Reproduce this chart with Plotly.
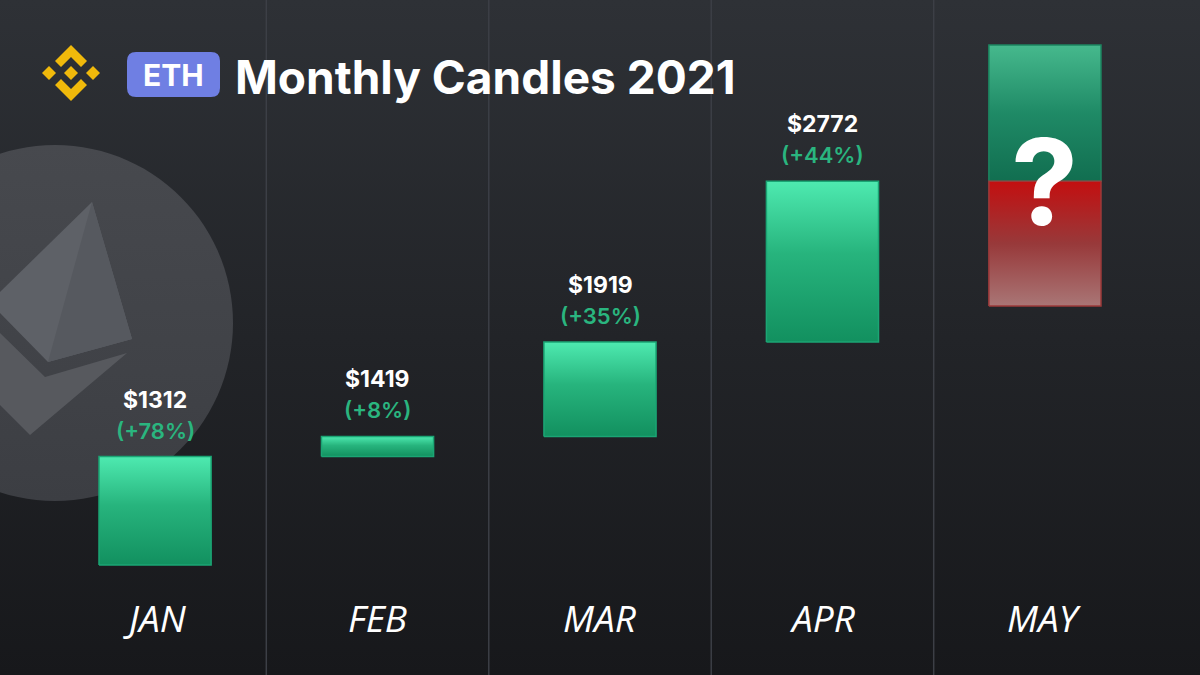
#! /usr/bin/env python3
# ETH monthly candles 2021 - recreated with plotly

import math
import plotly.graph_objects as go

months = ['JAN', 'FEB', 'MAR', 'APR', 'MAY']
opens = [737, 1312, 1419, 1919]
closes = [1312, 1419, 1919, 2772]
changes = ['+78%', '+8%', '+35%', '+44%']
# MAY is still unknown: a green/red "?" candle around the APR close
may_open = 2772
may_high = 3494
may_low = 2110

W, H = 1200, 675
half = 0.252  # half candle width in category units

fig = go.Figure()

# ---- background layer (pixel axes x / y, y reversed so the gradient is flipped) ----
fig.add_trace(go.Scatter(
    x=[0, W, W, 0, 0], y=[0, 0, H, H, 0], mode='none', fill='toself',
    fillgradient=dict(type='vertical', colorscale=[[0, '#17181b'], [0.5, '#222428'], [1, '#2e3136']]),
    hoverinfo='skip', showlegend=False))

# eth coin in the background
cx, cy, r = 55, 323, 178
angles = [i * 2 * math.pi / 120 for i in range(121)]
fig.add_trace(go.Scatter(
    x=[cx + r * math.cos(a) for a in angles], y=[cy + r * math.sin(a) for a in angles],
    mode='none', fill='toself',
    fillgradient=dict(type='vertical', colorscale=[[0, '#3c3e43'], [1, '#47494e']]),
    hoverinfo='skip', showlegend=False))
glyph = [
    ([92, 132, 48, 0, 0, 92], [202, 339, 362, 313, 292, 202], '#5e6167'),
    ([92, 132, 48, 92], [202, 339, 362, 202], '#56595f'),
    ([0, 45, 127, 30, 0, 0], [333, 377, 353, 435, 405, 333], '#57595e'),
]
for gx, gy, colour in glyph:
    fig.add_trace(go.Scatter(x=gx, y=gy, mode='none', fill='toself', fillcolor=colour,
                             hoverinfo='skip', showlegend=False))

# ---- candles (data axes x2 / y2) ----
for i in range(len(closes)):
    o, c = opens[i], closes[i]
    fig.add_trace(go.Scatter(
        x=[i - half, i + half, i + half, i - half, i - half], y=[o, o, c, c, o],
        xaxis='x2', yaxis='y2', mode='lines', fill='toself',
        line=dict(color='#1ba574', width=1.5),
        fillgradient=dict(type='vertical', colorscale=[[0, '#12905f'], [0.55, '#27b47d'], [1, '#4eeab0']]),
        hoverinfo='skip', showlegend=False))

m = len(months) - 1
fig.add_trace(go.Scatter(
    x=[m - half, m + half, m + half, m - half, m - half], y=[may_open, may_open, may_high, may_high, may_open],
    xaxis='x2', yaxis='y2', mode='lines', fill='toself', line=dict(color='#1c8560', width=1.5),
    fillgradient=dict(type='vertical', colorscale=[[0, '#116e50'], [0.5, '#1f8a66'], [1, '#46b98d']]),
    hoverinfo='skip', showlegend=False))
fig.add_trace(go.Scatter(
    x=[m - half, m + half, m + half, m - half, m - half], y=[may_low, may_low, may_open, may_open, may_low],
    xaxis='x2', yaxis='y2', mode='lines', fill='toself', line=dict(color='#9c3a3a', width=1.5),
    fillgradient=dict(type='vertical', colorscale=[[0, '#a97676'], [0.5, '#98393a'], [1, '#c30f10']]),
    hoverinfo='skip', showlegend=False))

# column separators
for i in range(len(months) - 1):
    fig.add_trace(go.Scatter(
        x=[i + 0.5, i + 0.5], y=[150, 3740], xaxis='x2', yaxis='y2', mode='lines',
        line=dict(color='#3c3f46', width=1.5), hoverinfo='skip', showlegend=False))

annotations = []
for i in range(len(closes)):
    annotations.append(dict(
        x=i, y=closes[i], xref='x2', yref='y2', yshift=57, showarrow=False,
        text=f'<b>${closes[i]}</b>', font=dict(family='Inter', size=23, color='#ffffff', weight=800)))
    annotations.append(dict(
        x=i, y=closes[i], xref='x2', yref='y2', yshift=26, showarrow=False,
        text=f'({changes[i]})', font=dict(family='Inter', size=22, color='#2ab57f', weight=600)))
for i, month in enumerate(months):
    annotations.append(dict(
        x=i, y=1 - 617 / H, xref='x2', yref='paper', yanchor='middle', showarrow=False, text=month,
        font=dict(family='Open Sans', size=37, color='#ffffff', style='italic')))
annotations.append(dict(
    x=m, y=may_open, xref='x2', yref='y2', yanchor='middle', showarrow=False, text='<b>?</b>',
    font=dict(family='Inter', size=120, color='#ffffff', weight=900)))

# header
annotations.append(dict(
    x=173.5, y=75, xref='x', yref='y', showarrow=False, text='<b>ETH</b>',
    font=dict(family='Inter', size=30, color='#ffffff')))
annotations.append(dict(
    x=233, y=77, xref='x', yref='y', xanchor='left', showarrow=False,
    text='<b>Monthly Candles 2021</b>', font=dict(family='Inter', size=46, color='#ffffff')))

shapes = [dict(
    type='path', xref='x', yref='y', fillcolor='#6f7fe3', line=dict(width=0), layer='above',
    path='M 136,52 L 211,52 Q 220,52 220,61 L 220,88 Q 220,97 211,97 L 136,97 '
         'Q 127,97 127,88 L 127,61 Q 127,52 136,52 Z')]

# binance logo
logo = [
    'M 71,66 L 78,73 L 71,80 L 64,73 Z',
    'M 49,66 L 56,73 L 49,80 L 42,73 Z',
    'M 93,66 L 100,73 L 93,80 L 86,73 Z',
    'M 71,45 L 87,61 L 81,67 L 71,57 L 61,67 L 55,61 Z',
    'M 71,101 L 87,85 L 81,79 L 71,89 L 61,79 L 55,85 Z',
]
for p in logo:
    shapes.append(dict(type='path', xref='x', yref='y', path=p, fillcolor='#f0b90b',
                       line=dict(width=0), layer='above'))

fig.update_layout(
    width=W, height=H, autosize=False,
    margin=dict(l=0, r=0, t=0, b=0),
    paper_bgcolor='#1d1f22', plot_bgcolor='rgba(0,0,0,0)',
    xaxis=dict(range=[0, W], visible=False, fixedrange=True),
    yaxis=dict(range=[H, 0], visible=False, fixedrange=True),
    xaxis2=dict(range=[-0.697, 4.697], overlaying='x', anchor='y2', visible=False, fixedrange=True),
    yaxis2=dict(range=[154, 3733], overlaying='y', anchor='x2', visible=False, fixedrange=True),
    annotations=annotations,
    shapes=shapes,
    showlegend=False,
)

fig.write_html('out.html', config={'displayModeBar': False},
               post_script="document.body.style.margin='0';")
